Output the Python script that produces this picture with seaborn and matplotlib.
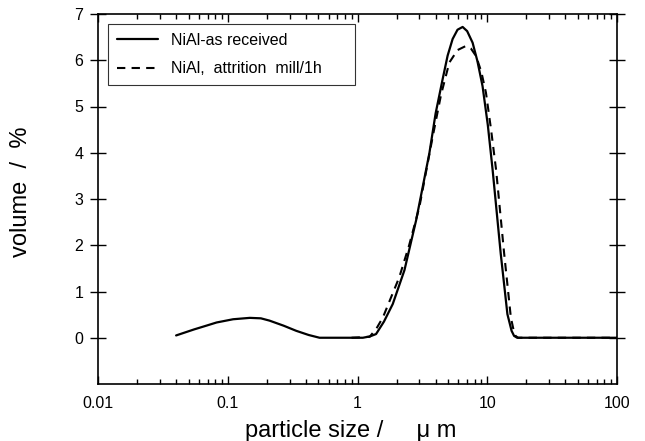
import numpy as np
import pandas as pd
import seaborn as sns
from matplotlib import pyplot as plt
from matplotlib.ticker import LogLocator, NullFormatter, FixedLocator

# Данные
size_received = [0.040, 0.055, 0.070, 0.082, 0.11, 0.148, 0.18, 0.21, 0.27, 0.337, 0.42, 0.51, 0.8,
                 1.10, 1.25, 1.39, 1.6, 1.87, 2.30, 2.83, 3.58, 4.0, 4.53, 4.95, 5.41, 5.9, 6.46,
                 7.0, 7.71, 8.4, 9.2, 10.1, 11.0, 12.7, 14.3, 15.4, 16.1, 17.0, 100.0]
vol_received = [0.05, 0.18, 0.27, 0.33, 0.40, 0.43, 0.42, 0.37, 0.26, 0.15, 0.06, 0.0, 0.0,
                0.0, 0.03, 0.08, 0.35, 0.73, 1.46, 2.54, 3.99, 4.85, 5.59, 6.1, 6.46, 6.66, 6.72,
                6.63, 6.38, 5.98, 5.44, 4.6, 3.63, 1.82, 0.51, 0.15, 0.04, 0.0, 0.0]

size_milled = [0.9, 1.24, 1.4, 1.57, 1.8, 2.10, 2.5, 3.0, 3.8, 4.4, 5.1, 5.9, 6.86, 7.5, 8.2,
               9.0, 9.77, 10.7, 11.7, 13.5, 15.2, 16.0, 16.5, 17.3, 100.0]
vol_milled = [0.0, 0.02, 0.2, 0.44, 0.85, 1.31, 2.0, 2.83, 4.35, 5.25, 5.95, 6.22, 6.31, 6.25, 6.09,
              5.75, 5.30, 4.5, 3.63, 1.82, 0.44, 0.15, 0.04, 0.0, 0.0]

label_received = 'NiAl-as received'
label_milled = 'NiAl,  attrition  mill/1h'

sns.set_theme(style="ticks")
plt.rcParams['font.family'] = ['Liberation Sans', 'DejaVu Sans']
plt.rcParams['text.color'] = 'black'
plt.rcParams['axes.labelcolor'] = 'black'
plt.rcParams['xtick.color'] = 'black'
plt.rcParams['ytick.color'] = 'black'

fig = plt.figure(figsize=(6.45, 4.41), dpi=100)
ax = fig.add_axes([98 / 645, 1 - 384 / 441, (617 - 98) / 645, (384 - 14) / 441])

df1 = pd.DataFrame({'size': size_received, 'vol': vol_received})
df2 = pd.DataFrame({'size': size_milled, 'vol': vol_milled})
sns.lineplot(data=df1, x='size', y='vol', ax=ax, color='black', lw=1.6, sort=False, label=label_received)
sns.lineplot(data=df2, x='size', y='vol', ax=ax, color='black', lw=1.5, sort=False,
             linestyle=(0, (4, 3)), label=label_milled)

ax.set_xscale('log')
ax.set_xlim(0.01, 100)
ax.set_ylim(-1, 7)
ax.xaxis.set_major_locator(FixedLocator([0.01, 0.1, 1, 10, 100]))
ax.set_xticklabels(['0.01', '0.1', '1', '10', '100'])
ax.xaxis.set_minor_locator(LogLocator(base=10, subs=np.arange(2, 10)))
ax.xaxis.set_minor_formatter(NullFormatter())
ax.set_yticks(range(0, 8))

ax.tick_params(axis='x', which='major', direction='in', length=6, width=1, top=True, labelsize=11.5, pad=9)
ax.tick_params(axis='x', which='minor', direction='in', length=3.5, width=1, top=True)
ax.tick_params(axis='y', which='major', direction='inout', length=11, width=1, right=True, labelsize=11.5, pad=5)
for s in ax.spines.values():
    s.set_linewidth(1.2)
    s.set_color('black')

ax.set_xlabel('particle size /     μ m', fontsize=17)
ax.xaxis.set_label_coords(0.486, -0.097)
ax.set_ylabel('volume  /  %', fontsize=17)
ax.yaxis.set_label_coords(-0.128, 0.52)

leg = ax.legend(loc='upper left', bbox_to_anchor=(0.019, 0.973, 0.476, 0.0), mode='expand',
                fontsize=11.5, frameon=True, fancybox=False, handlelength=2.6, handletextpad=0.8,
                borderpad=0.55, labelspacing=0.85, borderaxespad=0.0)
leg.get_frame().set_edgecolor('black')
leg.get_frame().set_linewidth(0.8)

fig.savefig('out.png', dpi=100)
